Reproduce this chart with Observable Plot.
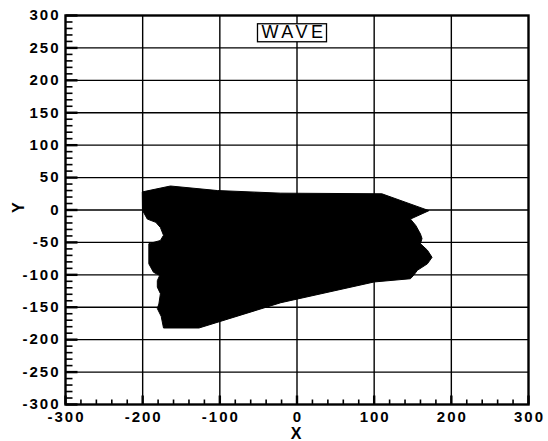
<!DOCTYPE html>
<html><head><meta charset="utf-8">
<script src="https://cdn.jsdelivr.net/npm/d3@7"></script>
<script src="https://cdn.jsdelivr.net/npm/@observablehq/plot@0.6"></script>
<style>body{margin:0;background:#fff} svg{display:block}</style>
</head><body><div id="chart"></div>
<script>
const title = "WAVE";
const xLabel = "X";
const yLabel = "Y";
const polyX = [-200, -164, -103, -21, 110, 171, 147, 154, 160, 162, 160, 169, 175, 169, 156, 151, 147, 100, -21, -127, -173, -176, -181, -179, -177, -181, -181, -178, -186, -192, -192, -177, -173, -177, -183, -194, -200];
const polyY = [28, 37, 30, 26, 25, -1, -14, -24, -37, -44, -52, -62, -73, -83, -93, -101, -106, -111, -143, -182, -182, -164, -152, -145, -129, -119, -109, -101, -96, -83, -52, -47, -39, -27, -19, -14, -1];
const xTicks = [-300, -200, -100, 0, 100, 200, 300];
const xGrid = [-200, -100, 0, 100, 200];
const yTicks = [300, 250, 200, 150, 100, 50, 0, -50, -100, -150, -200, -250, -300];
const yGrid = [250, 200, 150, 100, 50, 0, -50, -100, -150, -200, -250];
const xMinor = [-280, -260, -240, -220, -180, -160, -140, -120, -80, -60, -40, -20, 20, 40, 60, 80, 120, 140, 160, 180, 220, 240, 260, 280];
const yMinor = d3.range(-290, 300, 10).filter(v => v % 50 !== 0);
const xMin = -300, yMin = -300;

const W = 548, H = 441, mL = 65, mR = 20, mT = 15, mB = 37;
const pts = polyX.map((x, i) => ({x, y: polyY[i]}));
const font = "'Liberation Sans', Arial, sans-serif";
const LS = 2; // letter spacing of tick labels

// inward tick symbols (fixed pixel length)
const upTick = L => ({draw(ctx) { ctx.moveTo(0, 0); ctx.lineTo(0, -L); }});
const rightTick = L => ({draw(ctx) { ctx.moveTo(0, 0); ctx.lineTo(L, 0); }});

const plot = Plot.plot({
  width: W, height: H,
  marginLeft: mL, marginRight: mR, marginTop: mT, marginBottom: mB,
  x: {domain: [-300, 300], label: null},
  y: {domain: [-300, 300], label: null},
  style: {fontFamily: font, fontSize: "15px", color: "black", background: "white"},
  marks: [
    Plot.gridX(xGrid, {stroke: "black", strokeOpacity: 1, strokeWidth: 1.4}),
    Plot.gridY(yGrid, {stroke: "black", strokeOpacity: 1, strokeWidth: 1.4}),
    Plot.line(pts, {x: "x", y: "y", curve: "linear-closed", fill: "black", stroke: "black", strokeWidth: 1}),
    Plot.dot(xMinor, {x: d => d, y: yMin, symbol: upTick(5), r: 5, fill: "none", stroke: "black", strokeWidth: 1.6}),
    Plot.dot(xTicks, {x: d => d, y: yMin, symbol: upTick(9), r: 5, fill: "none", stroke: "black", strokeWidth: 2.4}),
    Plot.dot(yMinor, {x: xMin, y: d => d, symbol: rightTick(7), r: 5, fill: "none", stroke: "black", strokeWidth: 1.6}),
    Plot.dot(yTicks, {x: xMin, y: d => d, symbol: rightTick(12), r: 5, fill: "none", stroke: "black", strokeWidth: 2.4}),
    Plot.axisX(xTicks, {tickSize: 0, tickPadding: 7, dx: LS / 2, tickFormat: d => String(d), label: null, fontSize: 15, fontWeight: 600}),
    Plot.axisY(yTicks, {tickSize: 0, tickPadding: 5, tickFormat: d => String(d), label: null, fontSize: 15, fontWeight: 600}),
    Plot.frame({stroke: "black", strokeWidth: 2.4}),
    Plot.text([title], {frameAnchor: "top", dx: -3, dy: 17, lineAnchor: "middle", fontSize: 18, text: d => d, fill: "black"}),
    Plot.text([xLabel], {frameAnchor: "bottom", dx: -1, dy: 29, lineAnchor: "middle", fontSize: 16, fontWeight: "bold", text: d => d, fill: "black"}),
    Plot.text([yLabel], {frameAnchor: "left", dx: -47, dy: 3, rotate: -90, lineAnchor: "middle", fontSize: 16, fontWeight: "bold", text: d => d, fill: "black"})
  ]
});
document.getElementById("chart").appendChild(plot);

// wide letter spacing like the reference
plot.querySelectorAll("text").forEach(e => {
  const s = e.textContent;
  if (s === title) e.style.letterSpacing = "3.5px";
  else if (s !== xLabel && s !== yLabel) e.style.letterSpacing = LS + "px";
});

// box around the title
const t = Array.from(plot.querySelectorAll("text")).find(e => e.textContent === title);
if (t) {
  const sb = plot.getBoundingClientRect();
  const b = t.getBoundingClientRect();
  const r = document.createElementNS("http://www.w3.org/2000/svg", "rect");
  r.setAttribute("x", b.left - sb.left - 4);
  r.setAttribute("y", b.top - sb.top + 1.5);
  r.setAttribute("width", b.width + 4);
  r.setAttribute("height", b.height - 2);
  r.setAttribute("fill", "white");
  r.setAttribute("stroke", "black");
  r.setAttribute("stroke-width", 1.3);
  const g = t.parentNode;
  g.parentNode.insertBefore(r, g);
}
</script>
</body></html>
